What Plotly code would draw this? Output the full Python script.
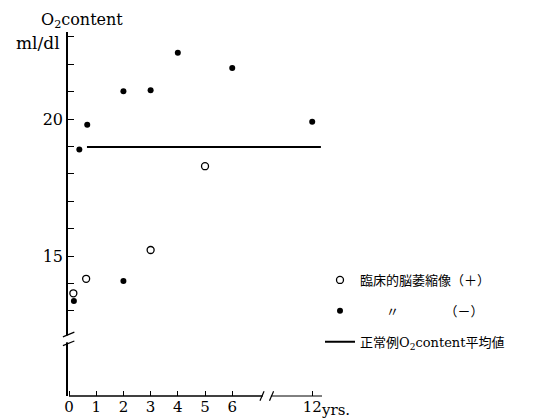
import plotly.graph_objects as go

# ---------------- data ----------------
open_age = [0.16, 0.63, 3, 5]                 # 臨床的脳萎縮像(+)
open_o2 = [13.64, 14.17, 15.22, 18.28]
filled_age = [0.18, 0.38, 0.67, 2, 2, 3, 4, 6, 12]   # 〃 (−)
filled_o2 = [13.36, 18.89, 19.79, 14.09, 21.02, 21.05, 22.42, 21.87, 19.9]
mean_age = [0.66, 12.32]                      # 正常例O2content平均値
mean_o2 = [18.98, 18.98]
x_ticks = [0, 1, 2, 3, 4, 5, 6, 12]
x_ticktext = ["0", "1", "2", "3", "4", "5", "6", "12"]
y_major = [15, 20]
y_major_text = ["15", "20"]
y_minor = [13, 14, 16, 17, 18, 19, 21, 22, 23]

# broken x axis: ages beyond 6 are drawn compressed after the break
BREAK_AT = 6
BROKEN_POS = 8.94


def bx(a):
    return a if a <= BREAK_AT else BROKEN_POS + (a - 12)


SERIF = "DejaVu Serif, Liberation Serif, serif"
LEG = "DejaVu Serif, Noto Sans CJK JP, serif"

fig = go.Figure()
fig.add_trace(go.Scatter(
    x=[bx(a) for a in open_age], y=open_o2, mode="markers",
    name="臨床的脳萎縮像（＋）", legendgroup="a",
    marker=dict(symbol="circle-open", size=7, color="black", line=dict(width=1.3)),
))
fig.add_trace(go.Scatter(
    x=[bx(a) for a in filled_age], y=filled_o2, mode="markers",
    name="　　〃　　　　（－）", legendgroup="b",
    marker=dict(symbol="circle", size=6, color="black"),
))
fig.add_trace(go.Scatter(
    x=[bx(a) for a in mean_age], y=mean_o2, mode="lines",
    name="正常例O<sub>2</sub>content平均値", legendgroup="c",
    line=dict(color="black", width=2),
))

# page body has an 8px margin: the figure is drawn offset by OFF
OFF = 8
W, H = 554 - OFF, 420 - OFF
L, T = 68 - OFF, 32 - OFF
pw, ph = 254, 364
R, B = W - L - pw, H - T - ph


def cx(px):   # screen x -> container fraction
    return (px - OFF) / W


def cy(py):   # screen y -> container fraction
    return 1 - (py - OFF) / H


def pxf(px):  # screen x -> paper fraction
    return (px - OFF - L) / pw


def pyf(py):  # screen y -> paper fraction
    return 1 - (py - OFF - T) / ph


xa_min, xa_max = -0.037, 9.30
ya_min, ya_max = 9.89, 23.18

# x axis line with break (drawn as shapes)
xb0, xb1 = 7.12, 7.42
shapes = [
    dict(type="line", xref="x", yref="paper", x0=0, x1=xb0, y0=0, y1=0,
         line=dict(color="black", width=1.5)),
    dict(type="line", xref="x", yref="paper", x0=xb1, x1=xa_max, y0=0, y1=0,
         line=dict(color="black", width=1)),
    dict(type="line", xref="x", yref="paper", x0=xb0 - 0.1, x1=xb0 + 0.05, y0=-0.013, y1=0.013,
         line=dict(color="black", width=1.2)),
    dict(type="line", xref="x", yref="paper", x0=xb1 - 0.05, x1=xb1 + 0.1, y0=-0.013, y1=0.013,
         line=dict(color="black", width=1.2)),
]
# y axis break
yb0, yb1 = 11.85, 12.1
shapes += [
    dict(type="rect", xref="paper", yref="y", x0=-0.01, x1=0.01, y0=yb0, y1=yb1,
         fillcolor="white", line=dict(width=0)),
    dict(type="line", xref="paper", yref="y", x0=-0.02, x1=0.025, y0=yb0 - 0.12, y1=yb0 + 0.05,
         line=dict(color="black", width=1.2)),
    dict(type="line", xref="paper", yref="y", x0=-0.02, x1=0.025, y0=yb1 - 0.05, y1=yb1 + 0.12,
         line=dict(color="black", width=1.2)),
]

annotations = [
    dict(text="O<sub>2</sub>content", xref="paper", yref="paper",
         x=pxf(39), y=pyf(8), xanchor="left", yanchor="top",
         showarrow=False, font=dict(family=SERIF, size=16, color="black")),
    dict(text="ml/dl", xref="paper", yref="paper",
         x=pxf(62), y=pyf(31), xanchor="right", yanchor="top",
         showarrow=False, font=dict(family=SERIF, size=17, color="black")),
    dict(text="yrs.", xref="x", yref="paper", x=BROKEN_POS, xshift=7,
         y=pyf(399), yanchor="top", xanchor="left",
         showarrow=False, font=dict(family=SERIF, size=15, color="black")),
]

fig.update_layout(
    template="none",
    width=W, height=H,
    margin=dict(l=L, r=R, t=T, b=B, autoexpand=False),
    paper_bgcolor="white", plot_bgcolor="white",
    showlegend=True,
    legend=dict(
        xref="container", yref="container",
        x=cx(320), y=cy(265), xanchor="left", yanchor="top",
        traceorder="grouped", tracegroupgap=11,
        font=dict(family=LEG, size=13, color="black"),
        bgcolor="rgba(0,0,0,0)", borderwidth=0,
    ),
    xaxis=dict(
        range=[xa_min, xa_max], showgrid=False, zeroline=False, showline=False,
        automargin=False,
        tickmode="array", tickvals=[bx(v) for v in x_ticks], ticktext=x_ticktext,
        ticks="inside", ticklen=5, tickwidth=1, tickcolor="black",
        tickfont=dict(family=SERIF, size=15, color="black"),
    ),
    yaxis=dict(
        range=[ya_min, ya_max], showgrid=False, zeroline=False,
        automargin=False,
        showline=True, linecolor="black", linewidth=1.5,
        tickmode="array", tickvals=y_major, ticktext=y_major_text,
        ticks="inside", ticklen=6, tickwidth=1, tickcolor="black",
        tickfont=dict(family=SERIF, size=16, color="black"),
        minor=dict(tickmode="array", tickvals=y_minor, ticks="inside",
                   ticklen=6, tickwidth=1, tickcolor="black", showgrid=False),
    ),
    shapes=shapes,
    annotations=annotations,
)

fig.write_html("out.html")
